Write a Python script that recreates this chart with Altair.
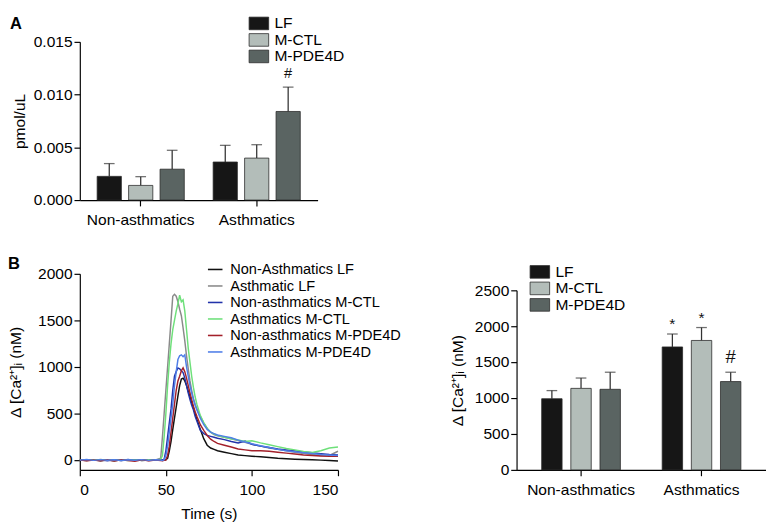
import altair as alt
import pandas as pd

FONT = "Liberation Sans"

# ---------------- data ----------------
panel_labels = ["A", "B"]
groups = ["Non-asthmatics", "Asthmatics"]
cells = ["LF", "M-CTL", "M-PDE4D"]
bar_colors = ["#161616", "#b3bdb9", "#5a6462"]

# Panel A (pmol/uL)
a_group = ["Non-asthmatics"] * 3 + ["Asthmatics"] * 3
a_cell = cells * 2
a_mean = [0.00225, 0.00139, 0.00293, 0.00361, 0.00398, 0.0084]
a_top = [0.00346, 0.00222, 0.00472, 0.00519, 0.00525, 0.01071]
a_mark = ["", "", "", "", "", "#"]

# Panel B right (nM)
b_mean = [991, 1135, 1122, 1712, 1802, 1230]
b_top = [1104, 1279, 1360, 1892, 1982, 1360]
b_mark = ["", "", "", "*", "*", "#"]

# Panel B left: calcium traces
series = ["Non-Asthmatics LF", "Asthmatic LF", "Non-asthmatics M-CTL",
          "Asthmatics M-CTL", "Non-asthmatics M-PDE4D", "Asthmatics M-PDE4D"]
series_colors = ["#111111", "#8a8a8a", "#2233aa", "#6ee07a", "#a3202a", "#4f7ee8"]
time = [0, 4, 8, 12, 16, 20, 24, 28, 32, 36, 40, 44,
        47, 48, 49, 50, 51, 52, 53, 54, 55, 56, 57, 58, 59, 60, 61, 62, 63, 64, 65, 66, 67, 68,
        70, 72, 74, 76, 78, 80, 84, 88, 92, 96, 100,
        105, 110, 115, 120, 125, 130, 135, 140, 145, 150]
na_lf = [0, -5, 3, -8, 2, -6, 4, -3, 5, -4, 2, -2,
         0, 3, -2, 5, 20, 100, 200, 330, 450, 570, 690, 800, 870, 880, 850, 800, 740, 680, 620, 560, 500, 440,
         330, 230, 160, 130, 115, 100, 85, 70, 55, 48, 42,
         35, 28, 20, 15, 10, 6, 3, 0, -5, -10]
as_lf = [0, 4, -3, 6, -2, 3, -5, 2, -4, 5, -1, 3,
         20, 250, 500, 750, 1000, 1250, 1500, 1760, 1780, 1760, 1700, 1620, 1550, 1420, 1280, 1120, 980, 850, 750, 660, 600, 550,
         470, 400, 340, 300, 275, 260, 245, 230, 210, 190, 170,
         150, 130, 115, 100, 85, 70, 60, 50, 50, 95]
na_ctl = [0, 5, -2, 4, -6, 3, -4, 6, -3, 4, -5, 2,
          3, -4, 10, 100, 250, 400, 550, 750, 900, 950, 990, 980, 960, 940, 880, 800, 720, 650, 590, 540, 470, 420,
          320, 285, 265, 255, 245, 235, 220, 200, 185, 205, 170,
          150, 135, 120, 108, 98, 88, 78, 68, 60, 55]
as_ctl = [0, -3, 5, -2, 4, -5, 3, -4, 2, -3, 4, -2,
          10, 50, 250, 500, 800, 1050, 1250, 1400, 1500, 1600, 1680, 1770, 1700, 1720, 1600, 1400, 1200, 1050, 900, 780, 680, 600,
          480, 400, 340, 300, 280, 265, 245, 230, 215, 200, 208,
          185, 165, 145, 125, 110, 92, 82, 100, 130, 140]
na_pde = [0, -6, 2, -8, 3, -10, 4, -5, -12, 3, -6, 2,
          -5, -8, -3, 0, 50, 150, 300, 450, 600, 750, 850, 900, 960, 990, 950, 880, 800, 720, 650, 580, 520, 470,
          380, 320, 265, 225, 200, 180, 160, 140, 120, 110, 100,
          100, 95, 85, 75, 65, 55, 50, 45, 40, 40]
as_pde = [0, 6, -3, 5, -2, 4, -4, 3, -2, 5, -3, 4,
          2, -3, 5, 50, 150, 300, 450, 600, 800, 950, 1080, 1120, 1130, 1110, 1130, 1000, 900, 800, 720, 650, 590, 540,
          450, 380, 330, 300, 285, 270, 255, 240, 215, 195, 175,
          155, 135, 115, 100, 90, 80, 70, 60, 55, 50]
traces = [na_lf, as_lf, na_ctl, as_ctl, na_pde, as_pde]

# ---------------- helpers ----------------
rect_symbol = "M-1.55,-1L1.55,-1L1.55,1L-1.55,1Z"


def bar_panel(mean, top, marks, ydomain, yrange, yticks, yfmt, ytitle, width, height,
              band_pi, band_po, off_pi, off_po, legend_x, legend_y, hash_size, title_pad):
    df = pd.DataFrame({"group": a_group, "cell": a_cell, "mean": mean,
                       "top": top, "mark": marks})
    base = alt.Chart(df)
    x = alt.X("group:N", sort=groups,
              scale=alt.Scale(paddingInner=band_pi, paddingOuter=band_po),
              axis=alt.Axis(title=None, labelAngle=0, labelPadding=6))
    xo = alt.XOffset("cell:N", sort=cells,
                     scale=alt.Scale(paddingInner=off_pi, paddingOuter=off_po))
    yscale = alt.Scale(domain=ydomain, range=yrange, nice=False, zero=True)
    yaxis = alt.Axis(title=ytitle, values=yticks, format=yfmt, titlePadding=title_pad)
    err = base.mark_rule(color="#333333", strokeWidth=1.3).encode(
        x=x, xOffset=xo, y=alt.Y("mean:Q", scale=yscale, axis=yaxis), y2="top:Q")
    cap = base.mark_tick(color="#333333", thickness=1.3, size=11).encode(
        x=x, xOffset=xo, y=alt.Y("top:Q", scale=yscale, axis=yaxis))
    bars = base.mark_bar(stroke="#2a2a2a", strokeWidth=0.8).encode(
        x=x, xOffset=xo,
        y=alt.Y("mean:Q", scale=yscale, axis=yaxis),
        color=alt.Color("cell:N", sort=cells,
                        scale=alt.Scale(domain=cells, range=bar_colors),
                        legend=alt.Legend(title=None, orient="none", legendX=legend_x,
                                          legendY=legend_y, symbolType=rect_symbol,
                                          symbolSize=169, symbolStrokeColor="#2a2a2a",
                                          symbolStrokeWidth=0.8, symbolOpacity=1,
                                          labelFontSize=16, labelOffset=8, rowPadding=-1,
                                          padding=0, labelLimit=0)))
    star = base.transform_filter(alt.datum.mark == "*").mark_text(
        font=FONT, fontSize=16, baseline="alphabetic", dy=-5, color="#111").encode(
        x=x, xOffset=xo, y=alt.Y("top:Q", scale=yscale, axis=yaxis), text="mark:N")
    hashm = base.transform_filter(alt.datum.mark == "#").mark_text(
        font=FONT, fontSize=hash_size, baseline="alphabetic", dy=-9, color="#111").encode(
        x=x, xOffset=xo, y=alt.Y("top:Q", scale=yscale, axis=yaxis), text="mark:N")
    return alt.layer(err, cap, bars, star, hashm).properties(width=width, height=height)


INDEP = dict(x="independent", y="independent", xOffset="independent", color="independent")

# ---------------- panel A ----------------
panel_a = bar_panel(a_mean, a_top, a_mark, [0, 0.015], [163, 0], [0, 0.005, 0.010, 0.015], ".3f",
                    "pmol/uL", 245, 163, 0.2, 0.125, 0.23, 0.09, 176.5, -27, 15, 6)
label_a = alt.Chart(pd.DataFrame({"lab": [panel_labels[0]]})).mark_text(
    font=FONT, fontSize=17, fontWeight="bold", align="left", baseline="middle").encode(
    text="lab:N", x=alt.value(-72), y=alt.value(-18))
panel_a = alt.layer(panel_a, label_a)

# ---------------- panel B left ----------------
rows = []
for name, vals in zip(series, traces):
    for t, v in zip(time, vals):
        rows.append({"series": name, "time": t, "value": v})
trace_df = pd.DataFrame(rows)
lines = alt.Chart(trace_df).mark_line(strokeWidth=1.5).encode(
    x=alt.X("time:Q", scale=alt.Scale(domain=[0, 150], nice=False),
            axis=alt.Axis(title="Time (s)", values=[0, 50, 100, 150], labelPadding=6,
                          titlePadding=9)),
    y=alt.Y("value:Q", scale=alt.Scale(domain=[-105, 2000], nice=False, zero=False),
            axis=alt.Axis(title="Δ [Ca²⁺]ᵢ (nM)", values=[0, 500, 1000, 1500, 2000],
                          format="d", titlePadding=14)),
    color=alt.Color("series:N", sort=series,
                    scale=alt.Scale(domain=series, range=series_colors),
                    legend=alt.Legend(title=None, orient="none", legendX=131, legendY=-13,
                                      symbolType="stroke", symbolSize=225,
                                      symbolStrokeWidth=1.6, labelFontSize=15,
                                      labelOffset=7, rowPadding=0, padding=0,
                                      labelLimit=0)),
    order="time:Q")
label_b = alt.Chart(pd.DataFrame({"lab": [panel_labels[1]]})).mark_text(
    font=FONT, fontSize=17, fontWeight="bold", align="left", baseline="middle").encode(
    text="lab:N", x=alt.value(-74), y=alt.value(-10))
panel_bl = alt.layer(lines, label_b).properties(width=266, height=202)

# ---------------- panel B right ----------------
panel_br = bar_panel(b_mean, b_top, b_mark, [0, 2500], [202, 17],
                     [0, 500, 1000, 1500, 2000, 2500], "d",
                     "Δ [Ca²⁺]ᵢ (nM)", 257, 202, 0.25, 0.16, 0.3, 0.2, 16, -10, 19, 9)

chart = alt.vconcat(
    panel_a,
    alt.hconcat(panel_bl, panel_br, spacing=50).resolve_scale(**INDEP),
    spacing=29,
).resolve_scale(**INDEP).properties(padding=0).configure_view(
    stroke=None
).configure_axis(
    labelFont=FONT, titleFont=FONT, labelFontSize=16, titleFontSize=16,
    titleFontWeight="normal", domainColor="#000", tickColor="#000",
    labelColor="#000", titleColor="#000", grid=False, tickSize=6, domainWidth=1.2,
    tickWidth=1.2,
).configure_legend(
    labelFont=FONT, labelColor="#000"
)

chart.save("out.html", embed_options={"renderer": "svg", "actions": False})
